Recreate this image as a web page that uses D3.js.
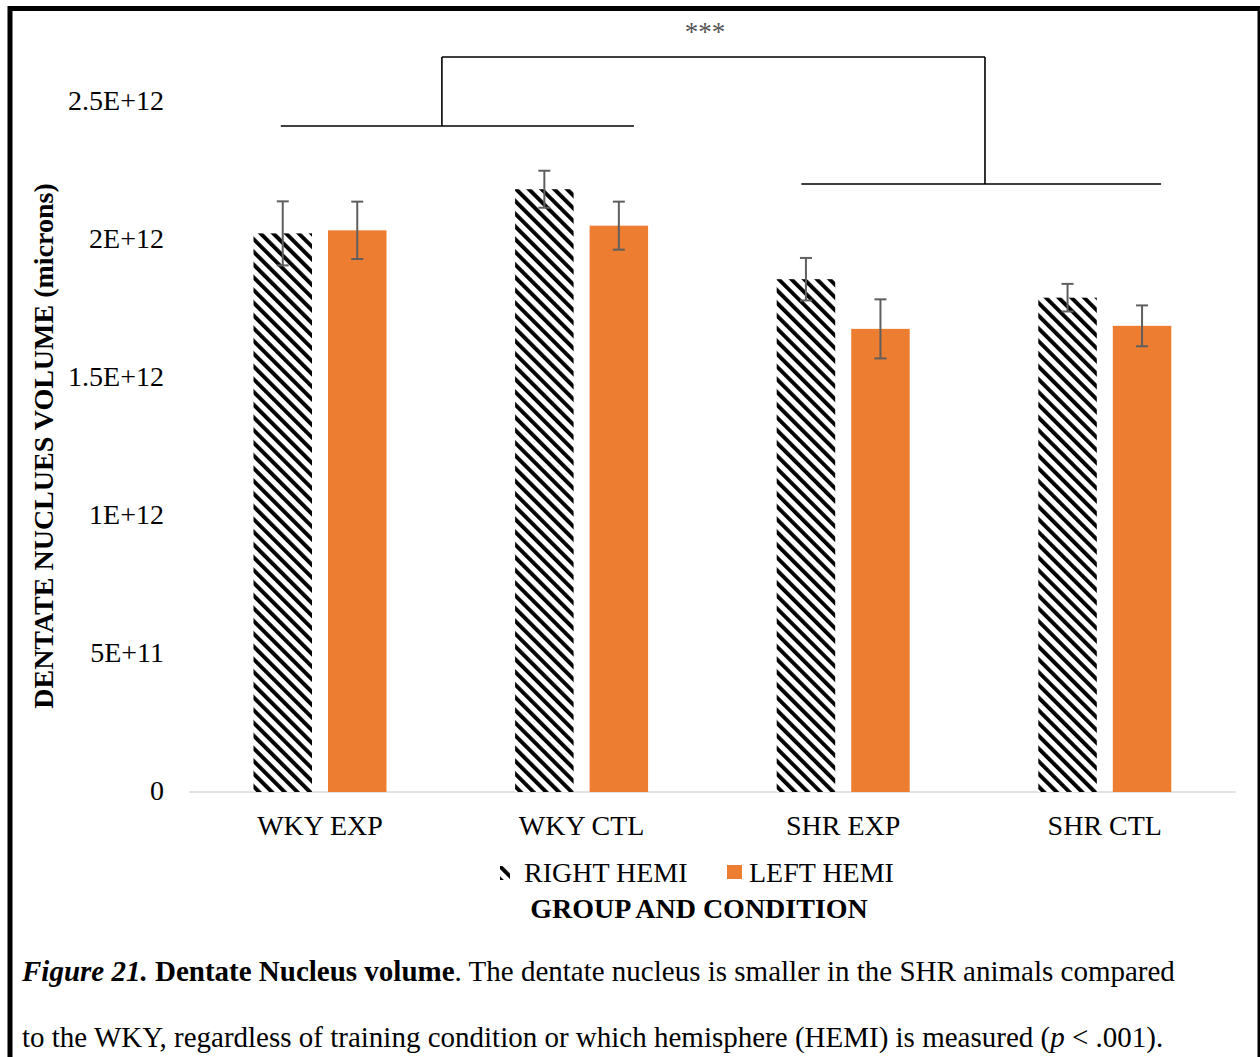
<!DOCTYPE html>
<html>
<head>
<meta charset="utf-8">
<script src="https://cdn.jsdelivr.net/npm/d3@7"></script>
<style>
  html, body { margin: 0; padding: 0; background: #fff; }
  svg { display: block; }
  text { font-family: "Liberation Serif", "Times New Roman", serif; fill: #000; }
</style>
</head>
<body>
<script>
// ---------------- data ----------------
const categories = ["WKY EXP", "WKY CTL", "SHR EXP", "SHR CTL"];
const seriesNames = ["RIGHT HEMI", "LEFT HEMI"];
const rightHemi = [2.024e12, 2.184e12, 1.858e12, 1.791e12];
const rightErr  = [0.116e12, 0.067e12, 0.077e12, 0.050e12];
const leftHemi  = [2.035e12, 2.052e12, 1.678e12, 1.689e12];
const leftErr   = [0.104e12, 0.087e12, 0.107e12, 0.074e12];
const tickValues = [0, 5e11, 1e12, 1.5e12, 2e12, 2.5e12];
const tickLabels = ["0", "5E+11", "1E+12", "1.5E+12", "2E+12", "2.5E+12"];
// significance brackets in category-index units / data units
const brackets = [
  { x1: 0.35, x2: 1.70, y: 2.413e12 },   // WKY group
  { x1: 2.34, x2: 3.715, y: 2.203e12 }   // SHR group
];
const topBracket = { x1: 0.966, x2: 3.042, y: 2.663e12, label: "***" };

// ---------------- layout ----------------
const W = 1260, H = 1057;
const svg = d3.select("body").append("svg").attr("width", W).attr("height", H);

const plotLeft = 189.2, plotRight = 1235.6, plotBottom = 792, plotTop = 102;

const y = d3.scaleLinear().domain([0, 2.5e12]).range([plotBottom, plotTop]);
const x0 = d3.scaleBand().domain(categories).range([plotLeft, plotRight])
  .paddingInner(0.4916).paddingOuter(0.2458);
const x1 = d3.scaleBand().domain(seriesNames).range([0, x0.bandwidth()])
  .paddingInner(0.2148);
const xi = d3.scaleLinear().domain([0, 4]).range([plotLeft, plotRight]);

// pattern
const defs = svg.append("defs");
const pat = defs.append("pattern").attr("id", "hatch")
  .attr("patternUnits", "userSpaceOnUse").attr("width", 9).attr("height", 9)
  .attr("patternTransform", "rotate(-45)");
pat.append("rect").attr("width", 9).attr("height", 9).attr("fill", "#fff");
pat.append("rect").attr("x", 0).attr("y", 0).attr("width", 3.9).attr("height", 9).attr("fill", "#000");

const colors = { "RIGHT HEMI": "url(#hatch)", "LEFT HEMI": "#ED7D31" };

// border
svg.append("rect").attr("x", 10).attr("y", 8.5).attr("width", 1250).attr("height", 1200)
  .attr("fill", "none").attr("stroke", "#000").attr("stroke-width", 5);

// y-axis tick labels
const yAxis = d3.axisLeft(y).tickValues(tickValues)
  .tickFormat((d, i) => tickLabels[i]).tickSize(0).tickPadding(0);
const gy = svg.append("g").attr("transform", `translate(164,0)`).call(yAxis);
gy.select(".domain").remove();
gy.selectAll("text").attr("font-size", 28).attr("font-family", "Liberation Serif").attr("fill", "#000")
  .attr("dy", "0.28em");

// baseline
svg.append("line").attr("x1", plotLeft).attr("x2", plotRight)
  .attr("y1", y(0)).attr("y2", y(0)).attr("stroke", "#d9d9d9").attr("stroke-width", 1.5);

// bars
const rows = categories.map((c, i) => ({
  cat: c,
  vals: [
    { s: "RIGHT HEMI", v: rightHemi[i], e: rightErr[i] },
    { s: "LEFT HEMI", v: leftHemi[i], e: leftErr[i] }
  ]
}));
const groups = svg.append("g").selectAll("g").data(rows).join("g")
  .attr("transform", d => `translate(${x0(d.cat)},0)`);
groups.selectAll("rect").data(d => d.vals).join("rect")
  .attr("x", d => x1(d.s)).attr("width", x1.bandwidth())
  .attr("y", d => y(d.v)).attr("height", d => y(0) - y(d.v))
  .attr("fill", d => colors[d.s]);

// error bars
const eb = groups.selectAll("g.err").data(d => d.vals).join("g").attr("class", "err")
  .attr("stroke", "#5f5f5f").attr("stroke-width", 2);
eb.append("line")
  .attr("x1", d => x1(d.s) + x1.bandwidth() / 2).attr("x2", d => x1(d.s) + x1.bandwidth() / 2)
  .attr("y1", d => y(d.v + d.e)).attr("y2", d => y(d.v - d.e));
eb.append("line")
  .attr("x1", d => x1(d.s) + x1.bandwidth() / 2 - 6).attr("x2", d => x1(d.s) + x1.bandwidth() / 2 + 6)
  .attr("y1", d => y(d.v + d.e)).attr("y2", d => y(d.v + d.e));
eb.append("line")
  .attr("x1", d => x1(d.s) + x1.bandwidth() / 2 - 6).attr("x2", d => x1(d.s) + x1.bandwidth() / 2 + 6)
  .attr("y1", d => y(d.v - d.e)).attr("y2", d => y(d.v - d.e));

// category labels
svg.append("g").selectAll("text").data(categories).join("text")
  .attr("x", d => x0(d) + x0.bandwidth() / 2).attr("y", 835)
  .attr("text-anchor", "middle").attr("font-size", 28).text(d => d);

// brackets
const bg = svg.append("g").attr("stroke", "#000").attr("stroke-width", 1.6).attr("fill", "none");
brackets.forEach(b => {
  bg.append("line").attr("x1", xi(b.x1)).attr("x2", xi(b.x2)).attr("y1", y(b.y)).attr("y2", y(b.y));
});
bg.append("line").attr("x1", xi(topBracket.x1)).attr("x2", xi(topBracket.x2))
  .attr("y1", y(topBracket.y)).attr("y2", y(topBracket.y));
bg.append("line").attr("x1", xi(topBracket.x1)).attr("x2", xi(topBracket.x1))
  .attr("y1", y(topBracket.y)).attr("y2", y(brackets[0].y));
bg.append("line").attr("x1", xi(topBracket.x2)).attr("x2", xi(topBracket.x2))
  .attr("y1", y(topBracket.y)).attr("y2", y(brackets[1].y));
svg.append("text").attr("x", 705).attr("y", 41).attr("text-anchor", "middle")
  .attr("font-size", 27).attr("fill", "#555").style("fill", "#555").text(topBracket.label);

// y-axis title
svg.append("text").attr("transform", "translate(53,446) rotate(-90)")
  .attr("text-anchor", "middle").attr("font-size", 28).attr("font-weight", "bold")
  .text("DENTATE NUCLUES VOLUME (microns)");

// legend
const lg = svg.append("g");
lg.append("rect").attr("x", 500).attr("y", 866).attr("width", 10).attr("height", 14).attr("fill", colors["RIGHT HEMI"]);
lg.append("text").attr("x", 524).attr("y", 882).attr("font-size", 28).text(seriesNames[0]);
lg.append("rect").attr("x", 727).attr("y", 865).attr("width", 15).attr("height", 14).attr("fill", colors["LEFT HEMI"]);
lg.append("text").attr("x", 749).attr("y", 882).attr("font-size", 28).text(seriesNames[1]);

// x-axis title
svg.append("text").attr("x", 699).attr("y", 918).attr("text-anchor", "middle")
  .attr("font-size", 28).attr("font-weight", "bold").text("GROUP AND CONDITION");

// caption
const cap1 = svg.append("text").attr("x", 22).attr("y", 981).attr("font-size", 26);
cap1.append("tspan").attr("font-style", "italic").attr("font-weight", "bold").text("Figure 21.");
cap1.append("tspan").attr("font-weight", "bold").text(" Dentate Nucleus volume");
cap1.append("tspan").text(". The dentate nucleus is smaller in the SHR animals compared");
const cap2 = svg.append("text").attr("x", 22).attr("y", 1047).attr("font-size", 26);
cap2.append("tspan").text("to the WKY, regardless of training condition or which hemisphere (HEMI) is measured (");
cap2.append("tspan").attr("font-style", "italic").text("p");
cap2.append("tspan").text(" < .001).");
// fit caption font size to the reference width
const w1 = cap1.node().getComputedTextLength();
const fs = 26 * 1153 / w1;
cap1.attr("font-size", fs);
cap2.attr("font-size", fs);
</script>
</body>
</html>
